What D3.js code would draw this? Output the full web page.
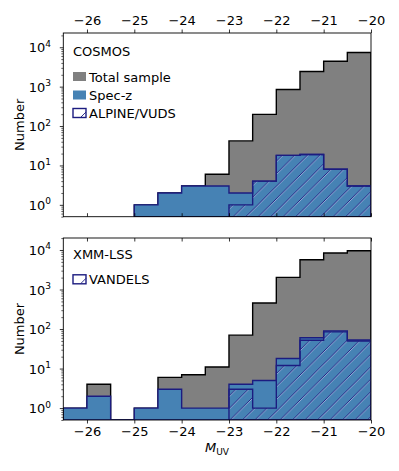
<!DOCTYPE html>
<html>
<head>
<meta charset="utf-8">
<script src="https://cdn.jsdelivr.net/npm/d3@7"></script>
<style>
  body { margin: 0; background: #fff; }
  svg text { font-family: "DejaVu Sans", sans-serif; fill: #000; }
</style>
</head>
<body>
<svg id="chart" width="399" height="471"></svg>
<script>
// bin edges in M_UV (0.5 mag bins)
const binEdges = [-26.5, -26, -25.5, -25, -24.5, -24, -23.5, -23, -22.5, -22, -21.5, -21, -20.5, -20]
const xTicks = [-26, -25, -24, -23, -22, -21, -20]
const yTicks = [1, 10, 100, 1000, 10000]

// COSMOS counts per bin
const cosmosTotal = [0, 0, 0, 1, 2, 3, 6, 42, 198, 850, 2430, 4420, 7340]
const cosmosSpec = [0, 0, 0, 1, 2, 3, 3, 2, 4, 18, 19, 8, 3]
const cosmosAlpine = [0, 0, 0, 0, 0, 0, 0, 1, 4, 18, 19, 8, 3]

// XMM-LSS counts per bin
const xmmTotal = [1, 4, 0, 1, 6, 7, 11, 70, 455, 2025, 5680, 8400, 9560]
const xmmSpec = [1, 2, 0, 1, 3, 1, 1, 4, 5, 18, 60, 90, 53]
const xmmVandels = [0, 0, 0, 0, 0, 0, 0, 3, 1, 12, 52, 85, 50]

const GRAY = '#808080'
const BLUE = '#4682b4'
const NAVY = '#1c1c80'
const FS = 13

const svg = d3.select('#chart')
const defs = svg.append('defs')

// hatch pattern "/"
const hs = 12.5
const pat = defs.append('pattern')
  .attr('id', 'hatch')
  .attr('patternUnits', 'userSpaceOnUse')
  .attr('width', hs).attr('height', hs)
const hatchPath = `M-2,2 L2,-2 M0,${hs} L${hs},0 M${hs - 2},${hs + 2} L${hs + 2},${hs - 2}`
pat.append('path')
  .attr('d', hatchPath)
  .attr('transform', 'translate(1,0)')
  .attr('stroke', '#c9c9ee').attr('stroke-width', 0.6)
pat.append('path')
  .attr('d', hatchPath)
  .attr('stroke', NAVY).attr('stroke-width', 0.9)

let x = d3.scaleLinear()
  .domain([binEdges[0], binEdges[binEdges.length - 1]])
  .range([63.3, 371])

const panels = [
  {
    id: 'cosmos', title: 'COSMOS', top: 33, bottom: 216.7, yMax: 23000,
    total: cosmosTotal, spec: cosmosSpec, sub: cosmosAlpine,
    labelsTop: true, titleY: 56,
    legend: [
      { label: 'Total sample', type: 'gray', y: 81.5 },
      { label: 'Spec-z', type: 'blue', y: 100 },
      { label: 'ALPINE/VUDS', type: 'hatch', y: 118 }
    ]
  },
  {
    id: 'xmm', title: 'XMM-LSS', top: 238, bottom: 420, yMax: 20100,
    total: xmmTotal, spec: xmmSpec, sub: xmmVandels,
    labelsTop: false, titleY: 258.5,
    legend: [
      { label: 'VANDELS', type: 'hatch', y: 284.3 }
    ]
  }
]

// step outline of a histogram, trimmed to the nonzero range
function stepPoints(values, yMin) {
  let first = values.findIndex(v => v > 0)
  let last = values.length - 1 - [...values].reverse().findIndex(v => v > 0)
  let pts = [[binEdges[first], yMin]]
  for (let i = first; i <= last; i++) {
    let v = Math.max(values[i], yMin)
    pts.push([binEdges[i], v])
    pts.push([binEdges[i + 1], v])
  }
  pts.push([binEdges[last + 1], yMin])
  return pts
}

panels.forEach(p => {
  const yMin = 0.5
  let y = d3.scaleLog()
    .domain([yMin, p.yMax])
    .range([p.bottom, p.top])

  defs.append('clipPath').attr('id', 'clip-' + p.id)
    .append('rect')
    .attr('x', x.range()[0]).attr('y', p.top)
    .attr('width', x.range()[1] - x.range()[0])
    .attr('height', p.bottom - p.top)

  let line = d3.line()
    .x(d => x(d[0]))
    .y(d => y(d[1]))

  let g = svg.append('g').attr('clip-path', `url(#clip-${p.id})`)

  g.append('path')
    .attr('d', line(stepPoints(p.total, yMin)) + 'Z')
    .attr('fill', GRAY)
    .attr('stroke', '#000')
    .attr('stroke-width', 1.4)

  g.append('path')
    .attr('d', line(stepPoints(p.spec, yMin)) + 'Z')
    .attr('fill', BLUE)
    .attr('stroke', NAVY)
    .attr('stroke-width', 1.4)

  g.append('path')
    .attr('d', line(stepPoints(p.sub, yMin)) + 'Z')
    .attr('fill', 'url(#hatch)')
    .attr('stroke', NAVY)
    .attr('stroke-width', 1.4)

  // x ticks
  let labelled = p.labelsTop ? d3.axisTop(x) : d3.axisBottom(x)
  labelled.tickValues(xTicks).tickSize(3.5).tickPadding(p.labelsTop ? 4.5 : 3.5)
    .tickFormat(d3.format('d'))
  let inner = p.labelsTop ? d3.axisBottom(x) : d3.axisTop(x)
  inner.tickValues(xTicks).tickSize(-3.5).tickFormat('')

  let ax1 = svg.append('g')
    .attr('transform', `translate(0,${p.labelsTop ? p.top : p.bottom})`)
    .call(labelled)
  let ax2 = svg.append('g')
    .attr('transform', `translate(0,${p.labelsTop ? p.bottom : p.top})`)
    .call(inner)
  ;[ax1, ax2].forEach(a => {
    a.select('.domain').remove()
    a.selectAll('line').attr('stroke', '#000').attr('stroke-width', 0.8)
    a.selectAll('text').attr('font-size', FS).attr('font-family', '"DejaVu Sans", sans-serif')
  })

  // y ticks (log)
  let minors = []
  for (let e = -1; e <= 4; e++) {
    for (let k = 2; k <= 9; k++) {
      let v = k * Math.pow(10, e)
      if (v >= yMin && v <= p.yMax) minors.push(v)
    }
  }
  let yMajor = svg.append('g')
    .attr('transform', `translate(${x.range()[0]},0)`)
    .call(d3.axisLeft(y).tickValues(yTicks).tickSize(3.5).tickFormat(''))
  let yMinor = svg.append('g')
    .attr('transform', `translate(${x.range()[0]},0)`)
    .call(d3.axisLeft(y).tickValues(minors).tickSize(2).tickFormat(''))
  ;[yMajor, yMinor].forEach(a => {
    a.select('.domain').remove()
    a.selectAll('line').attr('stroke', '#000').attr('stroke-width', 0.6)
  })
  yMajor.selectAll('line').attr('stroke-width', 0.8)

  yTicks.forEach(v => {
    let t = svg.append('text')
      .attr('x', 51)
      .attr('y', y(v) + 5)
      .attr('text-anchor', 'end')
      .attr('font-size', FS)
    t.append('tspan').text('10')
    t.append('tspan').text(Math.round(Math.log10(v)))
      .attr('font-size', 9).attr('dy', -5.5)
  })

  // frame
  svg.append('rect')
    .attr('x', x.range()[0]).attr('y', p.top)
    .attr('width', x.range()[1] - x.range()[0])
    .attr('height', p.bottom - p.top)
    .attr('fill', 'none')
    .attr('stroke', '#000')
    .attr('stroke-width', 0.9)

  // y label
  svg.append('text')
    .attr('transform', `translate(24,${(p.top + p.bottom) / 2}) rotate(-90)`)
    .attr('text-anchor', 'middle')
    .attr('font-size', FS)
    .text('Number')

  // legend
  svg.append('text')
    .attr('x', 73).attr('y', p.titleY)
    .attr('font-size', FS)
    .text(p.title)

  p.legend.forEach(item => {
    let r = svg.append('rect')
      .attr('x', 73).attr('y', item.y - 9.5)
      .attr('width', 13).attr('height', 9)
    if (item.type === 'gray') r.attr('fill', GRAY)
    else if (item.type === 'blue') r.attr('fill', BLUE)
    else {
      r.attr('fill', '#fff').attr('stroke', NAVY).attr('stroke-width', 1.4)
      svg.append('line')
        .attr('x1', 81).attr('y1', item.y - 1)
        .attr('x2', 86).attr('y2', item.y - 6)
        .attr('stroke', NAVY).attr('stroke-width', 0.9)
    }
    svg.append('text')
      .attr('x', 89).attr('y', item.y)
      .attr('font-size', FS)
      .text(item.label)
  })
})

// x label
let xl = svg.append('text')
  .attr('x', 217).attr('y', 452)
  .attr('text-anchor', 'middle')
  .attr('font-size', FS)
xl.append('tspan').text('M').attr('font-style', 'italic')
xl.append('tspan').text('UV').attr('font-size', 9).attr('dy', 2.5)
</script>
</body>
</html>
